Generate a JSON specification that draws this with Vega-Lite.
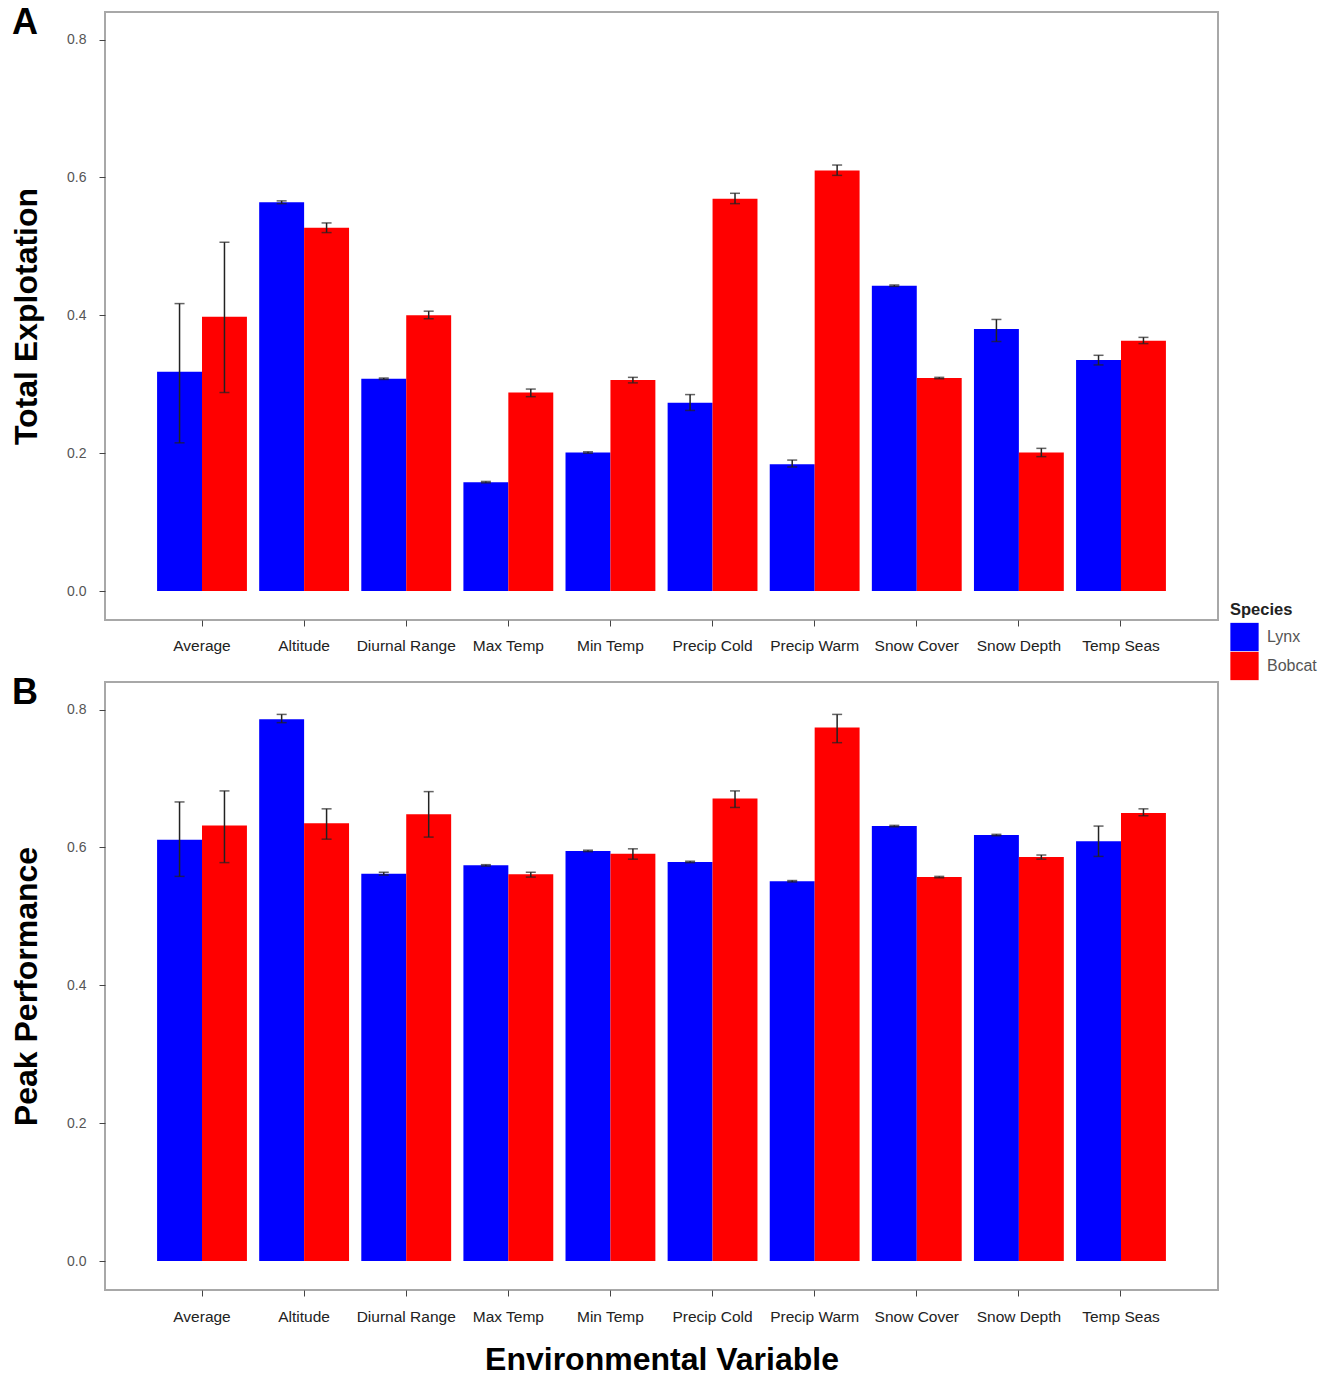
{
  "$schema": "https://vega.github.io/schema/vega-lite/v6.json",
  "padding": {"left": 9, "top": 4, "right": 5, "bottom": 0},
  "background": "white",
  "config": {
    "font": "Liberation Sans",
    "view": {"stroke": "#a8a8a8", "strokeWidth": 2},
    "axis": {"grid": false, "domain": false, "tickColor": "#444", "tickSize": 6, "labelColor": "#555", "labelFontSize": 14, "titleFontSize": 32, "titleFontWeight": "bold", "titleColor": "black"},
    "concat": {"spacing": 19}
  },
  "datasets": {
    "d": [
      {"panel": "A", "variable": "Average", "species": "Lynx", "value": 0.318, "lo": 0.215, "hi": 0.417},
      {"panel": "A", "variable": "Average", "species": "Bobcat", "value": 0.398, "lo": 0.288, "hi": 0.506},
      {"panel": "A", "variable": "Altitude", "species": "Lynx", "value": 0.564, "lo": 0.562, "hi": 0.566},
      {"panel": "A", "variable": "Altitude", "species": "Bobcat", "value": 0.527, "lo": 0.520, "hi": 0.534},
      {"panel": "A", "variable": "Diurnal Range", "species": "Lynx", "value": 0.308, "lo": 0.307, "hi": 0.309},
      {"panel": "A", "variable": "Diurnal Range", "species": "Bobcat", "value": 0.400, "lo": 0.395, "hi": 0.406},
      {"panel": "A", "variable": "Max Temp", "species": "Lynx", "value": 0.158, "lo": 0.157, "hi": 0.159},
      {"panel": "A", "variable": "Max Temp", "species": "Bobcat", "value": 0.288, "lo": 0.282, "hi": 0.293},
      {"panel": "A", "variable": "Min Temp", "species": "Lynx", "value": 0.201, "lo": 0.200, "hi": 0.202},
      {"panel": "A", "variable": "Min Temp", "species": "Bobcat", "value": 0.306, "lo": 0.302, "hi": 0.310},
      {"panel": "A", "variable": "Precip Cold", "species": "Lynx", "value": 0.273, "lo": 0.262, "hi": 0.285},
      {"panel": "A", "variable": "Precip Cold", "species": "Bobcat", "value": 0.569, "lo": 0.562, "hi": 0.577},
      {"panel": "A", "variable": "Precip Warm", "species": "Lynx", "value": 0.184, "lo": 0.180, "hi": 0.190},
      {"panel": "A", "variable": "Precip Warm", "species": "Bobcat", "value": 0.610, "lo": 0.603, "hi": 0.618},
      {"panel": "A", "variable": "Snow Cover", "species": "Lynx", "value": 0.443, "lo": 0.442, "hi": 0.444},
      {"panel": "A", "variable": "Snow Cover", "species": "Bobcat", "value": 0.309, "lo": 0.308, "hi": 0.310},
      {"panel": "A", "variable": "Snow Depth", "species": "Lynx", "value": 0.380, "lo": 0.362, "hi": 0.394},
      {"panel": "A", "variable": "Snow Depth", "species": "Bobcat", "value": 0.201, "lo": 0.195, "hi": 0.207},
      {"panel": "A", "variable": "Temp Seas", "species": "Lynx", "value": 0.335, "lo": 0.328, "hi": 0.342},
      {"panel": "A", "variable": "Temp Seas", "species": "Bobcat", "value": 0.363, "lo": 0.359, "hi": 0.368},
      {"panel": "B", "variable": "Average", "species": "Lynx", "value": 0.611, "lo": 0.558, "hi": 0.666},
      {"panel": "B", "variable": "Average", "species": "Bobcat", "value": 0.632, "lo": 0.578, "hi": 0.682},
      {"panel": "B", "variable": "Altitude", "species": "Lynx", "value": 0.786, "lo": 0.781, "hi": 0.793},
      {"panel": "B", "variable": "Altitude", "species": "Bobcat", "value": 0.635, "lo": 0.612, "hi": 0.656},
      {"panel": "B", "variable": "Diurnal Range", "species": "Lynx", "value": 0.562, "lo": 0.560, "hi": 0.564},
      {"panel": "B", "variable": "Diurnal Range", "species": "Bobcat", "value": 0.648, "lo": 0.615, "hi": 0.681},
      {"panel": "B", "variable": "Max Temp", "species": "Lynx", "value": 0.574, "lo": 0.573, "hi": 0.575},
      {"panel": "B", "variable": "Max Temp", "species": "Bobcat", "value": 0.561, "lo": 0.557, "hi": 0.564},
      {"panel": "B", "variable": "Min Temp", "species": "Lynx", "value": 0.595, "lo": 0.594, "hi": 0.596},
      {"panel": "B", "variable": "Min Temp", "species": "Bobcat", "value": 0.591, "lo": 0.583, "hi": 0.598},
      {"panel": "B", "variable": "Precip Cold", "species": "Lynx", "value": 0.579, "lo": 0.578, "hi": 0.580},
      {"panel": "B", "variable": "Precip Cold", "species": "Bobcat", "value": 0.671, "lo": 0.658, "hi": 0.682},
      {"panel": "B", "variable": "Precip Warm", "species": "Lynx", "value": 0.551, "lo": 0.550, "hi": 0.552},
      {"panel": "B", "variable": "Precip Warm", "species": "Bobcat", "value": 0.774, "lo": 0.752, "hi": 0.793},
      {"panel": "B", "variable": "Snow Cover", "species": "Lynx", "value": 0.631, "lo": 0.630, "hi": 0.632},
      {"panel": "B", "variable": "Snow Cover", "species": "Bobcat", "value": 0.557, "lo": 0.556, "hi": 0.558},
      {"panel": "B", "variable": "Snow Depth", "species": "Lynx", "value": 0.618, "lo": 0.617, "hi": 0.619},
      {"panel": "B", "variable": "Snow Depth", "species": "Bobcat", "value": 0.586, "lo": 0.583, "hi": 0.589},
      {"panel": "B", "variable": "Temp Seas", "species": "Lynx", "value": 0.609, "lo": 0.587, "hi": 0.631},
      {"panel": "B", "variable": "Temp Seas", "species": "Bobcat", "value": 0.650, "lo": 0.646, "hi": 0.656}
    ]
  },
  "vconcat": [
    {
      "width": 1113,
      "height": 608,
      "data": {"name": "d"},
      "transform": [{"filter": "datum.panel == 'A'"}],
      "title": {"text": "A", "anchor": "start", "frame": "group", "fontSize": 36, "fontWeight": "bold", "color": "black", "offset": -30, "dx": -93},
      "encoding": {
        "x": {"field": "variable", "type": "nominal", "sort": ["Average", "Altitude", "Diurnal Range", "Max Temp", "Min Temp", "Precip Cold", "Precip Warm", "Snow Cover", "Snow Depth", "Temp Seas"], "scale": {"paddingInner": 0.12, "paddingOuter": 0.51}, "axis": {"title": null, "labelAngle": 0, "labelFontSize": 15.5, "labelColor": "#222", "labelPadding": 12, "labelOverlap": false}},
        "xOffset": {"field": "species", "type": "nominal", "sort": ["Lynx", "Bobcat"], "scale": {"paddingInner": 0, "paddingOuter": 0}}
      },
      "layer": [
        {
          "mark": {"type": "bar"},
          "encoding": {
            "y": {"field": "value", "type": "quantitative", "scale": {"domain": [-0.042, 0.84], "nice": false, "zero": false}, "axis": {"title": "Total Explotation", "values": [0, 0.2, 0.4, 0.6, 0.8], "format": ".1f", "labelPadding": 13, "titlePadding": 23}},
            "y2": {"datum": 0},
            "color": {"field": "species", "type": "nominal", "sort": ["Lynx", "Bobcat"], "scale": {"domain": ["Lynx", "Bobcat"], "range": ["#0000ff", "#ff0000"]}, "legend": {"title": "Species", "orient": "none", "legendX": 1125, "legendY": 590, "symbolType": "square", "symbolSize": 800, "symbolStrokeWidth": 0, "rowPadding": 0, "labelFontSize": 16, "labelColor": "#555", "labelOffset": 8, "titleFontSize": 16.5, "titleFontWeight": "bold", "titleColor": "#222", "titlePadding": 4, "symbolOpacity": 1}}
          }
        },
        {
          "mark": {"type": "rule", "color": "#222", "strokeWidth": 1.5},
          "encoding": {"y": {"field": "lo", "type": "quantitative"}, "y2": {"field": "hi"}}
        },
        {
          "mark": {"type": "tick", "color": "#222", "size": 10, "thickness": 1.5, "orient": "horizontal"},
          "encoding": {"y": {"field": "lo", "type": "quantitative"}}
        },
        {
          "mark": {"type": "tick", "color": "#222", "size": 10, "thickness": 1.5, "orient": "horizontal"},
          "encoding": {"y": {"field": "hi", "type": "quantitative"}}
        }
      ]
    },
    {
      "width": 1113,
      "height": 608,
      "data": {"name": "d"},
      "transform": [{"filter": "datum.panel == 'B'"}],
      "title": {"text": "B", "anchor": "start", "frame": "group", "fontSize": 36, "fontWeight": "bold", "color": "black", "offset": -30, "dx": -93},
      "encoding": {
        "x": {"field": "variable", "type": "nominal", "sort": ["Average", "Altitude", "Diurnal Range", "Max Temp", "Min Temp", "Precip Cold", "Precip Warm", "Snow Cover", "Snow Depth", "Temp Seas"], "scale": {"paddingInner": 0.12, "paddingOuter": 0.51}, "axis": {"title": "Environmental Variable", "labelAngle": 0, "labelFontSize": 15.5, "labelColor": "#222", "labelPadding": 13, "labelOverlap": false, "titlePadding": 20}},
        "xOffset": {"field": "species", "type": "nominal", "sort": ["Lynx", "Bobcat"], "scale": {"paddingInner": 0, "paddingOuter": 0}}
      },
      "layer": [
        {
          "mark": {"type": "bar"},
          "encoding": {
            "y": {"field": "value", "type": "quantitative", "scale": {"domain": [-0.042, 0.84], "nice": false, "zero": false}, "axis": {"title": "Peak Performance", "values": [0, 0.2, 0.4, 0.6, 0.8], "format": ".1f", "labelPadding": 13, "titlePadding": 23}},
            "y2": {"datum": 0},
            "color": {"field": "species", "type": "nominal", "sort": ["Lynx", "Bobcat"], "scale": {"domain": ["Lynx", "Bobcat"], "range": ["#0000ff", "#ff0000"]}, "legend": null}
          }
        },
        {
          "mark": {"type": "rule", "color": "#222", "strokeWidth": 1.5},
          "encoding": {"y": {"field": "lo", "type": "quantitative"}, "y2": {"field": "hi"}}
        },
        {
          "mark": {"type": "tick", "color": "#222", "size": 10, "thickness": 1.5, "orient": "horizontal"},
          "encoding": {"y": {"field": "lo", "type": "quantitative"}}
        },
        {
          "mark": {"type": "tick", "color": "#222", "size": 10, "thickness": 1.5, "orient": "horizontal"},
          "encoding": {"y": {"field": "hi", "type": "quantitative"}}
        }
      ]
    }
  ],
  "resolve": {"scale": {"color": "shared"}}
}
